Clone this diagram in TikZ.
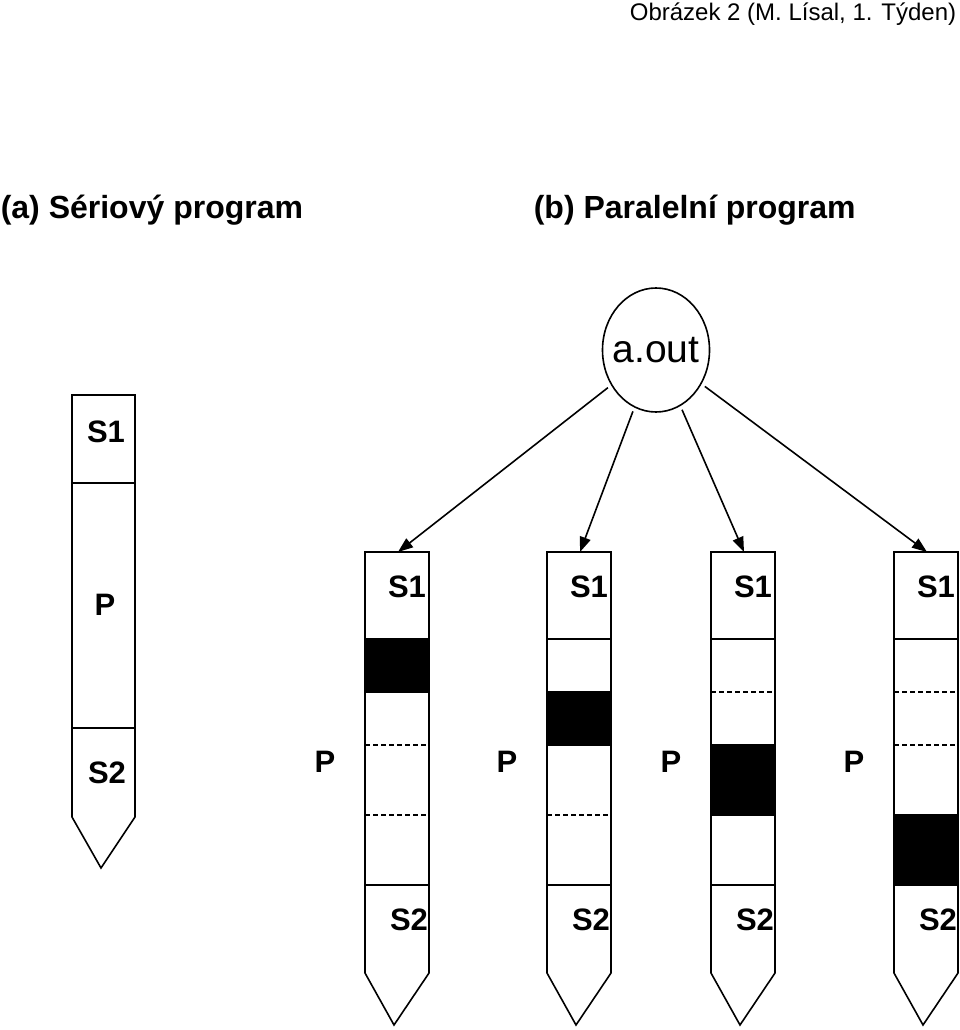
\documentclass[tikz,border=0pt]{standalone}
\usepackage{fontspec}
\setmainfont{Liberation Sans}
\usetikzlibrary{arrows.meta,shapes.geometric}
\begin{document}
\begin{tikzpicture}[x=1pt,y=-1pt,line width=1.6pt,
        every node/.style={inner sep=0pt},
        lbl/.style={font=\fontsize{31}{36}\selectfont\bfseries},
        ttl/.style={font=\fontsize{32}{38}\selectfont\bfseries,anchor=base west},
        pdash/.style={line width=1.2pt,dash pattern=on 5pt off 3pt},
        arr/.style={-{Triangle[length=15pt,width=11pt]},shorten <=4pt}]
        \useasboundingbox (0,0) rectangle (960,1030);
        % titles
        \node[font=\fontsize{24}{28}\selectfont,anchor=base east] (fig) at (957,21) {Obrázek 2 (M. Lísal, 1. Týden)};
        \node[ttl] (ta) at (0,218) {(a) Sériový program};
        \node[ttl] (tb) at (533,218) {(b) Paralelní program};
        % serial program
        \draw (72,395) -- (135,395) -- (135,817) -- (101,868) -- (72,817) -- cycle;
        \draw (72,483) -- (135,483) (72,728) -- (135,728);
        \node[lbl] (ss1) at (106,432) {S1};
        \node[lbl] (sp) at (105,605) {P};
        \node[lbl] (ss2) at (107,773) {S2};
        % parallel program
        \node[ellipse,draw,minimum width=107pt,minimum height=124pt,
            font=\fontsize{39}{44}\selectfont] (aout) at (656,350) {\makebox[0pt]{a.out}};
        \foreach \x/\ta/\tb [count=\i] in {365/639/692,547/692/745,711/745/815,894/815/885}{
            \foreach \y in {692,745,815}
                \draw[pdash] (\x,\y) -- ++(64,0);
            \filldraw (\x,\ta) rectangle ++(64,{\tb-\ta});
            \draw (\x,639) -- ++(64,0) (\x,885) -- ++(64,0);
            \draw (\x,552) -- ++(64,0) -- (\x+64,973) -- (\x+29,1025) -- (\x,973) -- cycle;
            \coordinate (top\i) at (\x+33,552);
            \node[lbl] (ps1\i) at (\x+42,587) {S1};
            \node[lbl] (pp\i) at (\x-40,762) {P};
            \node[lbl] (ps2\i) at (\x+44,920) {S2};
        }
        \foreach \i in {1,...,4}
            \draw[arr] (aout) -- (top\i);
\end{tikzpicture}
\end{document}
